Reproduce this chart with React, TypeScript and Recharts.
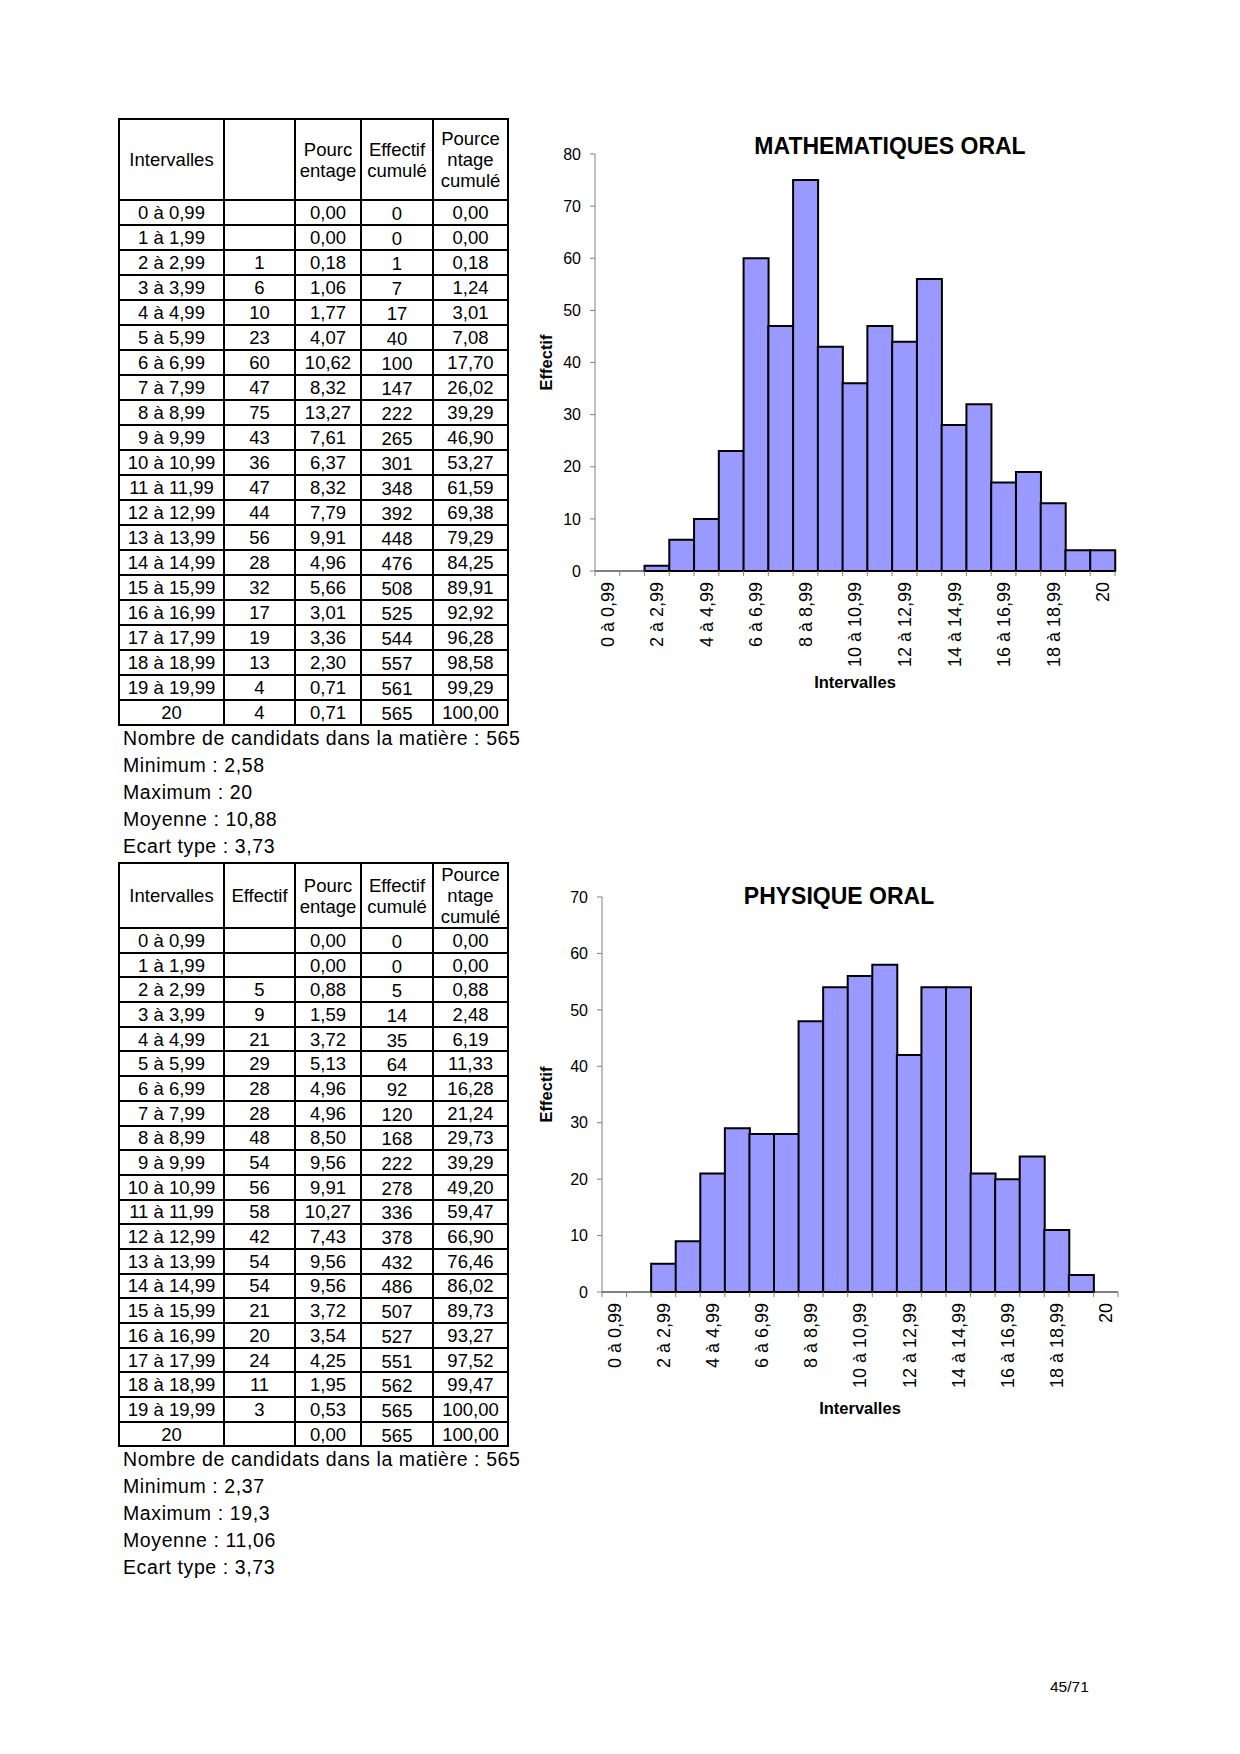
import React from 'react';
import { BarChart, Bar, XAxis, YAxis } from 'recharts';

const intervalles = [
  '0 à 0,99', '1 à 1,99', '2 à 2,99', '3 à 3,99', '4 à 4,99', '5 à 5,99', '6 à 6,99',
  '7 à 7,99', '8 à 8,99', '9 à 9,99', '10 à 10,99', '11 à 11,99', '12 à 12,99',
  '13 à 13,99', '14 à 14,99', '15 à 15,99', '16 à 16,99', '17 à 17,99', '18 à 18,99',
  '19 à 19,99', '20',
];

// Mathématiques oral
const mathEffectif = [null, null, 1, 6, 10, 23, 60, 47, 75, 43, 36, 47, 44, 56, 28, 32, 17, 19, 13, 4, 4];
const mathPct = ['0,00', '0,00', '0,18', '1,06', '1,77', '4,07', '10,62', '8,32', '13,27', '7,61', '6,37', '8,32', '7,79', '9,91', '4,96', '5,66', '3,01', '3,36', '2,30', '0,71', '0,71'];
const mathCum = [0, 0, 1, 7, 17, 40, 100, 147, 222, 265, 301, 348, 392, 448, 476, 508, 525, 544, 557, 561, 565];
const mathPctCum = ['0,00', '0,00', '0,18', '1,24', '3,01', '7,08', '17,70', '26,02', '39,29', '46,90', '53,27', '61,59', '69,38', '79,29', '84,25', '89,91', '92,92', '96,28', '98,58', '99,29', '100,00'];
const mathStats = ['Nombre de candidats dans la matière : 565', 'Minimum : 2,58', 'Maximum : 20', 'Moyenne : 10,88', 'Ecart type : 3,73'];
const mathTicks = [0, 10, 20, 30, 40, 50, 60, 70, 80];

// Physique oral
const physEffectif = [null, null, 5, 9, 21, 29, 28, 28, 48, 54, 56, 58, 42, 54, 54, 21, 20, 24, 11, 3, null];
const physPct = ['0,00', '0,00', '0,88', '1,59', '3,72', '5,13', '4,96', '4,96', '8,50', '9,56', '9,91', '10,27', '7,43', '9,56', '9,56', '3,72', '3,54', '4,25', '1,95', '0,53', '0,00'];
const physCum = [0, 0, 5, 14, 35, 64, 92, 120, 168, 222, 278, 336, 378, 432, 486, 507, 527, 551, 562, 565, 565];
const physPctCum = ['0,00', '0,00', '0,88', '2,48', '6,19', '11,33', '16,28', '21,24', '29,73', '39,29', '49,20', '59,47', '66,90', '76,46', '86,02', '89,73', '93,27', '97,52', '99,47', '100,00', '100,00'];
const physStats = ['Nombre de candidats dans la matière : 565', 'Minimum : 2,37', 'Maximum : 19,3', 'Moyenne : 11,06', 'Ecart type : 3,73'];
const physTicks = [0, 10, 20, 30, 40, 50, 60, 70];

const FONT = '"Liberation Sans", Arial, Helvetica, sans-serif';
const cell: React.CSSProperties = { border: '2px solid #000', padding: 0, textAlign: 'center', verticalAlign: 'middle' };

function StatTable({ top, headHeight, rowHeight, effLabel, eff, pct, cum, pctCum, stats }: any) {
  return (
    <>
      <table style={{ position: 'absolute', left: 118, top, width: 389, borderCollapse: 'collapse', tableLayout: 'fixed', fontSize: 18.5, lineHeight: '21px' }}>
        <colgroup>
          <col style={{ width: 105 }} />
          <col style={{ width: 71 }} />
          <col style={{ width: 66 }} />
          <col style={{ width: 72 }} />
          <col style={{ width: 75 }} />
        </colgroup>
        <tbody>
          <tr style={{ height: headHeight }}>
            <td style={cell}>Intervalles</td>
            <td style={cell}>{effLabel}</td>
            <td style={cell}>Pourc<br />entage</td>
            <td style={cell}>Effectif<br />cumulé</td>
            <td style={cell}>Pource<br />ntage<br />cumulé</td>
          </tr>
          {intervalles.map((iv, i) => (
            <tr key={iv} style={{ height: rowHeight }}>
              <td style={{ ...cell, lineHeight: '19px' }}>{iv}</td>
              <td style={{ ...cell, lineHeight: '19px' }}>{eff[i] ?? ''}</td>
              <td style={{ ...cell, lineHeight: '19px' }}>{pct[i]}</td>
              <td style={{ ...cell, paddingTop: 3, lineHeight: '18px' }}>{cum[i]}</td>
              <td style={{ ...cell, lineHeight: '19px' }}>{pctCum[i]}</td>
            </tr>
          ))}
        </tbody>
      </table>
      <div style={{ position: 'absolute', left: 123, top: top + headHeight + 21 * rowHeight + 1, fontSize: 19.5, letterSpacing: 0.6, lineHeight: '27px' }}>
        {stats.map((s: string) => <div key={s}>{s}</div>)}
      </div>
    </>
  );
}

function IntervalTick(props: any) {
  const { x, y, payload, index, half, last } = props;
  const h = payload && typeof payload.offset === 'number' && payload.offset > 0 ? payload.offset : half;
  return (
    <g>
      <line x1={x - h} x2={x - h} y1={y} y2={y + 5} stroke="#808080" />
      {index === last && <line x1={x + h} x2={x + h} y1={y} y2={y + 5} stroke="#808080" />}
      {index % 2 === 0 && (
        <text transform={`translate(${x},${y + 11}) rotate(-90)`} textAnchor="end" dy="0.36em" fontSize={18} fill="#000">
          {payload.value}
        </text>
      )}
    </g>
  );
}

function Histogram({ left, top, margin, yWidth, values, ticks, title, titleX, titleY, yLabelOffset, xLabelOffset }: any) {
  const width = 640;
  const height = 600;
  const data = intervalles.map((cat, i) => ({ cat, n: values[i] }));
  const plotW = width - margin.left - margin.right - yWidth;
  const half = plotW / intervalles.length / 2;
  return (
    <div style={{ position: 'absolute', left, top, width, height }}>
      <div style={{ position: 'absolute', left: titleX, top: titleY, transform: 'translate(-50%, -50%)', fontWeight: 'bold', fontSize: 23, whiteSpace: 'nowrap' }}>
        {title}
      </div>
      <BarChart width={width} height={height} data={data} margin={margin} barCategoryGap={0} barGap={0}>
        <XAxis
          dataKey="cat"
          interval={0}
          height={100}
          tickLine={false}
          tickSize={0}
          tickMargin={0}
          axisLine={{ stroke: '#000', strokeWidth: 1 }}
          tick={(p: any) => <IntervalTick {...p} half={half} last={intervalles.length - 1} />}
          label={{ value: 'Intervalles', position: 'bottom', offset: xLabelOffset, style: { fontWeight: 'bold', fontSize: 16.5, fill: '#000' } }}
        />
        <YAxis
          type="number"
          domain={[0, ticks[ticks.length - 1]]}
          ticks={ticks}
          interval={0}
          width={yWidth}
          tickSize={5}
          tickMargin={9}
          axisLine={{ stroke: '#808080' }}
          tickLine={{ stroke: '#808080' }}
          tick={{ fill: '#000', fontSize: 16 }}
          label={{ value: 'Effectif', angle: -90, position: 'insideLeft', offset: yLabelOffset, style: { textAnchor: 'middle', fontWeight: 'bold', fontSize: 16.5, fill: '#000' } }}
        />
        <Bar dataKey="n" fill="#9999FF" stroke="#000" strokeWidth={2} isAnimationActive={false} />
      </BarChart>
    </div>
  );
}

export default function App() {
  return (
    <div style={{ position: 'absolute', left: 0, top: 0, width: 1240, height: 1754, background: '#fff', fontFamily: FONT, color: '#000' }}>
      <StatTable top={118} headHeight={81} rowHeight={25} effLabel="" eff={mathEffectif} pct={mathPct} cum={mathCum} pctCum={mathPctCum} stats={mathStats} />
      <StatTable top={862} headHeight={64} rowHeight={24.7} effLabel="Effectif" eff={physEffectif} pct={physPct} cum={physCum} pctCum={physPctCum} stats={physStats} />

      <Histogram
        left={500} top={110} margin={{ top: 44, right: 25, bottom: 39, left: 50 }} yWidth={45}
        values={mathEffectif} ticks={mathTicks} title="MATHEMATIQUES ORAL" titleX={390} titleY={36}
        yLabelOffset={-4} xLabelOffset={5}
      />
      <Histogram
        left={500} top={850} margin={{ top: 47, right: 22, bottom: 58, left: 56 }} yWidth={46}
        values={physEffectif} ticks={physTicks} title="PHYSIQUE ORAL" titleX={339} titleY={46}
        yLabelOffset={-10} xLabelOffset={10}
      />

      <div style={{ position: 'absolute', left: 1050, top: 1678, fontSize: 15.5 }}>45/71</div>
    </div>
  );
}
